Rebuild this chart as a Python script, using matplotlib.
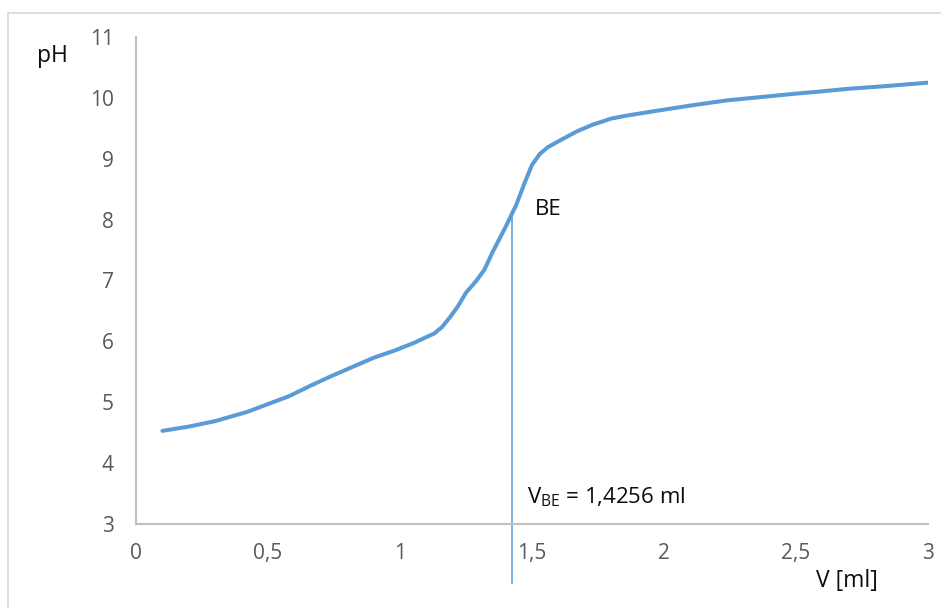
import numpy as np
import matplotlib.pyplot as plt
from matplotlib.lines import Line2D

# Titration curve: added volume [ml] vs measured pH
volume = [0.10, 0.20, 0.30, 0.42, 0.50, 0.58, 0.66, 0.74, 0.82, 0.90,
          0.98, 1.05, 1.10, 1.13, 1.16, 1.19, 1.22, 1.25, 1.29, 1.32,
          1.35, 1.40, 1.44, 1.47, 1.50, 1.53, 1.56, 1.61, 1.67, 1.73,
          1.80, 1.86, 1.99, 2.11, 2.24, 2.36, 2.50, 2.58, 2.70, 2.83, 3.00]
ph = [4.53, 4.60, 4.69, 4.84, 4.97, 5.10, 5.27, 5.43, 5.58, 5.73,
      5.85, 5.97, 6.07, 6.13, 6.24, 6.40, 6.58, 6.80, 7.00, 7.18,
      7.46, 7.88, 8.24, 8.58, 8.90, 9.08, 9.19, 9.31, 9.45, 9.56,
      9.66, 9.71, 9.80, 9.88, 9.96, 10.01, 10.07, 10.10, 10.15, 10.19, 10.25]

v_be = 1.4256
x_ticks = [0, 0.5, 1, 1.5, 2, 2.5, 3]
x_labels = ["0", "0,5", "1", "1,5", "2", "2,5", "3"]
y_ticks = [3, 4, 5, 6, 7, 8, 9, 10, 11]

plt.rcParams['font.family'] = ['Open Sans', 'DejaVu Sans']

W, H = 941, 608
fig = plt.figure(figsize=(W / 100, H / 100), dpi=100)
ax = fig.add_axes([136 / W, 1 - 524 / H, 792 / W, 487 / H])

blue = "#5b9bd5"
ax.plot(volume, ph, color=blue, lw=2.9, solid_capstyle="round", solid_joinstyle="round")

# equivalence point marker line, running below the x axis
ph_be = np.interp(v_be, volume, ph)
ax.plot([v_be, v_be], [2.03, ph_be], color=blue, lw=1.1, clip_on=False)

ax.set_xlim(0, 3)
ax.set_ylim(3, 11)
ax.set_xticks(x_ticks)
ax.set_xticklabels(x_labels)
ax.set_yticks(y_ticks)
ax.tick_params(length=0, labelsize=15, labelcolor="#595959")
ax.tick_params(axis="y", pad=16)
ax.tick_params(axis="x", pad=14)

for side in ["top", "right"]:
    ax.spines[side].set_visible(False)
for side in ["left", "bottom"]:
    ax.spines[side].set_color("#bfbfbf")
    ax.spines[side].set_linewidth(1.5)

txt = "#0d0d0d"
ax.text(v_be + 0.085, ph_be + 0.05, "BE", fontsize=16, color=txt, va="center")
ax.text(v_be + 0.055, 3.44, r"V$_{\mathregular{BE}}$ = 1,4256 ml", fontsize=16,
        color=txt, va="center")

fig.text(52 / W, 1 - 56 / H, "pH", fontsize=16.5, color=txt, ha="center", va="center")
fig.text(847 / W, 1 - 581 / H, "V [ml]", fontsize=16.5, color=txt, ha="center", va="center")

# chart area border
border = "#d9d9d9"
fig.add_artist(Line2D([8 / W, 1], [1 - 13 / H, 1 - 13 / H], color=border, lw=1.2))
fig.add_artist(Line2D([8 / W, 8 / W], [0, 1 - 13 / H], color=border, lw=1.2))

fig.savefig("out.png", dpi=100)
